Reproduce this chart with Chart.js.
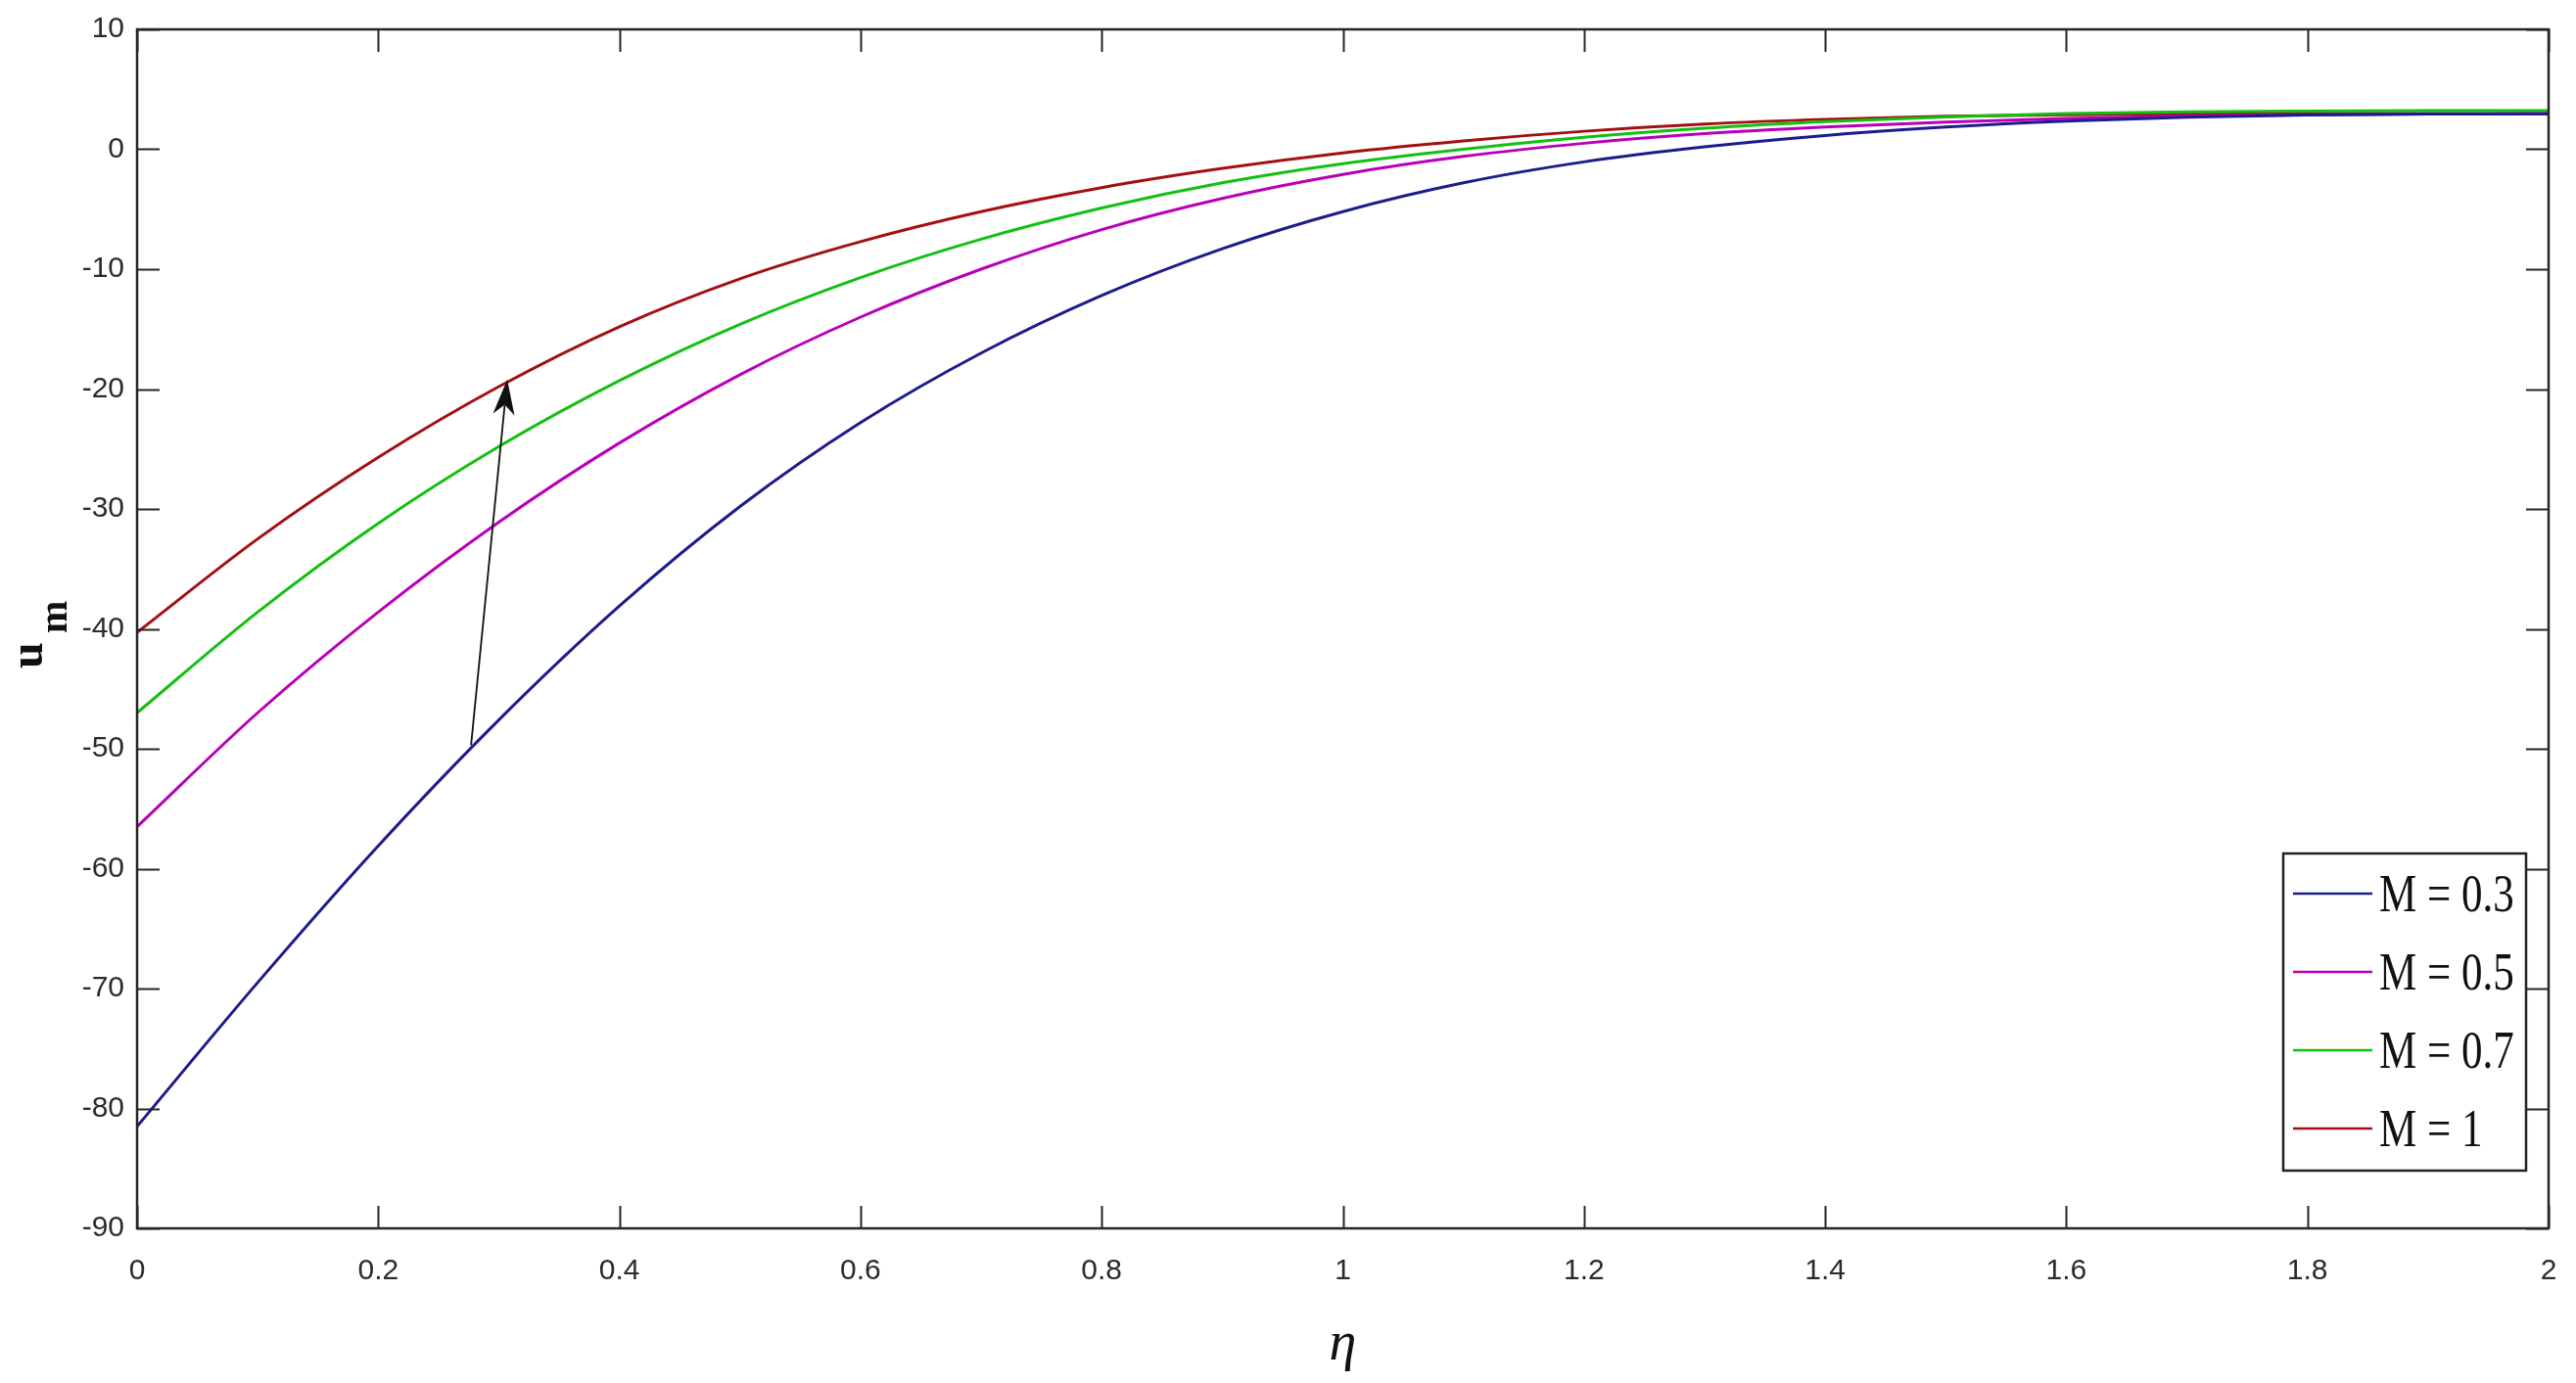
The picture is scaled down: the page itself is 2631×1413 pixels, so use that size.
<!DOCTYPE html>
<html>
<head>
<meta charset="utf-8">
<script src="https://cdn.jsdelivr.net/npm/chart.js@4.4.1/dist/chart.umd.min.js"></script>
<style>
  html, body { margin: 0; padding: 0; background: #fff; }
  #wrap { width: 2631px; height: 1413px; }
</style>
</head>
<body>
<div id="wrap"><canvas id="umChart" width="2631" height="1413"></canvas></div>
<script>
// eta values and the four velocity profiles
const eta  = [0, 0.1, 0.2, 0.3, 0.4, 0.5, 0.6, 0.7, 0.8, 0.9, 1.0, 1.1, 1.2, 1.3, 1.4, 1.5, 1.6, 1.7, 1.8, 1.9, 2.0];
const um03 = [-81.5, -69.5, -58.1, -47.6, -38.1, -29.8, -22.8, -17.0, -12.2, -8.3, -5.2, -2.8, -1.05, 0.2, 1.15, 1.85, 2.35, 2.67, 2.85, 2.93, 2.96];
const um05 = [-56.5, -47.0, -38.6, -31.1, -24.5, -18.8, -14.0, -10.0, -6.7, -4.1, -2.1, -0.6, 0.5, 1.3, 1.85, 2.27, 2.57, 2.77, 2.88, 2.93, 2.95];
const um07 = [-47.0, -38.6, -31.2, -24.8, -19.3, -14.6, -10.7, -7.5, -4.9, -2.8, -1.2, 0.0, 1.0, 1.75, 2.3, 2.7, 2.98, 3.12, 3.19, 3.22, 3.23];
const um10 = [-40.3, -32.5, -25.7, -19.8, -14.8, -10.8, -7.7, -5.2, -3.2, -1.6, -0.3, 0.7, 1.5, 2.1, 2.5, 2.75, 2.88, 2.94, 2.97, 2.98, 2.98];

const seriesLabels = ["M = 0.3", "M = 0.5", "M = 0.7", "M = 1"];
const seriesColors = ["#1c1c8c", "#b800b8", "#12c012", "#a30f12"];

const xTickValues = [0, 0.2, 0.4, 0.6, 0.8, 1, 1.2, 1.4, 1.6, 1.8, 2];
const yTickValues = [-90, -80, -70, -60, -50, -40, -30, -20, -10, 0, 10];

// arrow showing increasing M: [eta, u_m]
const arrowFrom = [0.277, -49.7];
const arrowTo = [0.307, -19.2];

const tickFont = { family: "'Liberation Sans Narrow', 'Arial Narrow', 'Liberation Sans', Arial", size: 30 };

const framePlugin = {
  id: "framePlugin",
  afterDatasetsDraw(chart) {
    const { ctx, chartArea: a, scales: { x, y } } = chart;
    ctx.save();

    // inward tick marks on all four sides
    ctx.strokeStyle = "#262626";
    ctx.lineWidth = 2;
    ctx.beginPath();
    x.ticks.forEach((t) => {
      const px = Math.round(x.getPixelForValue(t.value)) + 0.5;
      ctx.moveTo(px, a.bottom); ctx.lineTo(px, a.bottom - 23);
      ctx.moveTo(px, a.top); ctx.lineTo(px, a.top + 23);
    });
    y.ticks.forEach((t) => {
      const py = Math.round(y.getPixelForValue(t.value)) + 0.5;
      ctx.moveTo(a.left, py); ctx.lineTo(a.left + 23, py);
      ctx.moveTo(a.right, py); ctx.lineTo(a.right - 23, py);
    });
    ctx.stroke();
    ctx.lineWidth = 2.5;
    ctx.strokeRect(a.left, a.top, a.right - a.left, a.bottom - a.top);

    // arrow
    const x0 = x.getPixelForValue(arrowFrom[0]), y0 = y.getPixelForValue(arrowFrom[1]);
    const x1 = x.getPixelForValue(arrowTo[0]), y1 = y.getPixelForValue(arrowTo[1]);
    const ang = Math.atan2(y1 - y0, x1 - x0);
    const len = 36, half = 11, back = 26;
    ctx.strokeStyle = "#111";
    ctx.fillStyle = "#111";
    ctx.lineWidth = 1.8;
    ctx.beginPath();
    ctx.moveTo(x0, y0);
    ctx.lineTo(x1 - back * Math.cos(ang), y1 - back * Math.sin(ang));
    ctx.stroke();
    ctx.beginPath();
    ctx.moveTo(x1, y1);
    ctx.lineTo(x1 - len * Math.cos(ang) + half * Math.sin(ang), y1 - len * Math.sin(ang) - half * Math.cos(ang));
    ctx.lineTo(x1 - back * Math.cos(ang), y1 - back * Math.sin(ang));
    ctx.lineTo(x1 - len * Math.cos(ang) - half * Math.sin(ang), y1 - len * Math.sin(ang) + half * Math.cos(ang));
    ctx.closePath();
    ctx.fill();

    // legend box inside the axes
    const lw = 248, lh = 324;
    const lx = a.right - 23 - lw, ly = a.bottom - 59 - lh;
    ctx.fillStyle = "#fff";
    ctx.fillRect(lx, ly, lw, lh);
    ctx.strokeStyle = "#222";
    ctx.lineWidth = 2.5;
    ctx.strokeRect(lx, ly, lw, lh);
    chart.data.datasets.forEach((ds, i) => {
      const ey = ly + 41 + i * 80;
      ctx.strokeStyle = ds.borderColor;
      ctx.lineWidth = 2.5;
      ctx.beginPath();
      ctx.moveTo(lx + 10, ey);
      ctx.lineTo(lx + 91, ey);
      ctx.stroke();
      ctx.save();
      ctx.translate(lx + 98, ey + 18);
      ctx.scale(1, 1.3);
      ctx.fillStyle = "#111";
      ctx.font = "43px 'Liberation Serif', 'Times New Roman', serif";
      ctx.textAlign = "left";
      ctx.textBaseline = "alphabetic";
      ctx.fillText(ds.label, 0, 0);
      ctx.restore();
    });

    // y axis title u_m (rotated, subscript m)
    ctx.save();
    ctx.translate(43, 683);
    ctx.rotate(-Math.PI / 2);
    ctx.fillStyle = "#111";
    ctx.textAlign = "left";
    ctx.textBaseline = "alphabetic";
    ctx.font = "bold 48px 'Liberation Serif', serif";
    ctx.fillText("u", 0, 0);
    ctx.font = "bold 40px 'Liberation Serif', serif";
    ctx.fillText("m", 36, 25);
    ctx.restore();

    ctx.restore();
  },
};

const ctx = document.getElementById("umChart");

const series = [um03, um05, um07, um10];

new Chart(ctx, {
  type: "line",
  data: {
    datasets: series.map((vals, i) => ({
      label: seriesLabels[i],
      data: eta.map((e, j) => ({ x: e, y: vals[j] })),
      borderColor: seriesColors[i],
      backgroundColor: seriesColors[i],
      borderWidth: 3,
      pointRadius: 0,
      fill: false,
      cubicInterpolationMode: "monotone",
    })),
  },
  options: {
    responsive: false,
    animation: false,
    events: [],
    layout: {
      padding: { top: 30, right: 28, left: 0, bottom: 0 },
    },
    scales: {
      x: {
        type: "linear",
        min: 0,
        max: 2,
        afterBuildTicks: (scale) => {
          scale.ticks = xTickValues.map((v) => ({ value: v }));
        },
        afterFit: (scale) => {
          scale.height = 158;
          scale.paddingLeft = 0;
          scale.paddingRight = 0;
        },
        grid: { display: false, drawTicks: false },
        border: { display: false },
        ticks: {
          color: "#2b2b2b",
          font: tickFont,
          padding: 26,
          maxRotation: 0,
          autoSkip: false,
          callback: (v) => String(v),
        },
        title: {
          display: true,
          text: "η",
          color: "#111",
          font: { family: "'Liberation Serif', serif", style: "italic", size: 56 },
          padding: { top: 0, bottom: 5 },
        },
      },
      y: {
        type: "linear",
        min: -90,
        max: 10,
        afterBuildTicks: (scale) => {
          scale.ticks = yTickValues.map((v) => ({ value: v }));
        },
        afterFit: (scale) => {
          scale.width = 140;
          scale.paddingTop = 0;
          scale.paddingBottom = 0;
        },
        grid: { display: false, drawTicks: false },
        border: { display: false },
        ticks: {
          color: "#2b2b2b",
          font: tickFont,
          padding: 13,
          autoSkip: false,
          callback: (v) => String(v),
        },
      },
    },
    plugins: {
      legend: { display: false },
      tooltip: { enabled: false },
    },
  },
  plugins: [framePlugin],
});
</script>
</body>
</html>
